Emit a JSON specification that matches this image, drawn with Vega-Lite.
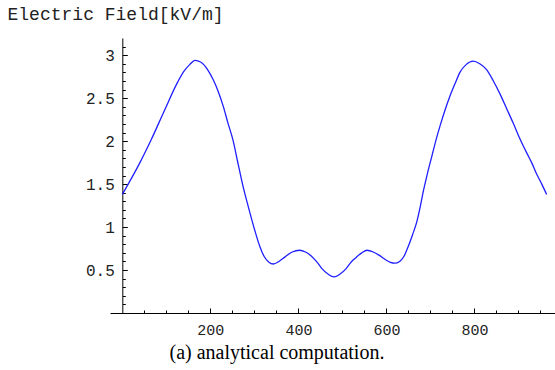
{
  "$schema": "https://vega.github.io/schema/vega-lite/v6.json",
  "autosize": "none",
  "width": 445,
  "height": 275,
  "padding": {"left": 110, "top": 38, "right": 0, "bottom": 57},
  "background": "white",
  "config": {"view": {"stroke": null}},
  "data": {"values": [
    {"x": 0, "y": 1.38}, {"x": 20, "y": 1.56}, {"x": 40, "y": 1.75}, {"x": 65, "y": 2.01},
    {"x": 96, "y": 2.36}, {"x": 126, "y": 2.69}, {"x": 141, "y": 2.82}, {"x": 153, "y": 2.89},
    {"x": 165, "y": 2.94}, {"x": 178, "y": 2.92}, {"x": 194, "y": 2.83}, {"x": 206, "y": 2.72},
    {"x": 217, "y": 2.59}, {"x": 229, "y": 2.41}, {"x": 240, "y": 2.21}, {"x": 252, "y": 2.0},
    {"x": 262, "y": 1.76}, {"x": 274, "y": 1.48}, {"x": 286, "y": 1.24}, {"x": 301, "y": 0.96},
    {"x": 312, "y": 0.78}, {"x": 322, "y": 0.66}, {"x": 333, "y": 0.59}, {"x": 343, "y": 0.57},
    {"x": 356, "y": 0.6}, {"x": 369, "y": 0.65}, {"x": 386, "y": 0.71}, {"x": 403, "y": 0.73},
    {"x": 416, "y": 0.71}, {"x": 428, "y": 0.67}, {"x": 441, "y": 0.6}, {"x": 453, "y": 0.52},
    {"x": 468, "y": 0.45}, {"x": 481, "y": 0.42}, {"x": 494, "y": 0.45}, {"x": 509, "y": 0.52},
    {"x": 521, "y": 0.6}, {"x": 532, "y": 0.65}, {"x": 544, "y": 0.7}, {"x": 556, "y": 0.73},
    {"x": 570, "y": 0.71}, {"x": 584, "y": 0.67}, {"x": 598, "y": 0.62}, {"x": 609, "y": 0.59},
    {"x": 619, "y": 0.58}, {"x": 630, "y": 0.6}, {"x": 640, "y": 0.66}, {"x": 650, "y": 0.78},
    {"x": 660, "y": 0.92}, {"x": 669, "y": 1.06}, {"x": 677, "y": 1.24}, {"x": 684, "y": 1.42},
    {"x": 693, "y": 1.62}, {"x": 703, "y": 1.82}, {"x": 712, "y": 2.0}, {"x": 722, "y": 2.18},
    {"x": 733, "y": 2.36}, {"x": 744, "y": 2.52}, {"x": 756, "y": 2.67}, {"x": 767, "y": 2.8},
    {"x": 781, "y": 2.89}, {"x": 797, "y": 2.93}, {"x": 812, "y": 2.9}, {"x": 828, "y": 2.83},
    {"x": 843, "y": 2.7}, {"x": 858, "y": 2.55}, {"x": 873, "y": 2.38}, {"x": 888, "y": 2.21},
    {"x": 903, "y": 2.03}, {"x": 919, "y": 1.86}, {"x": 930, "y": 1.75}, {"x": 941, "y": 1.62},
    {"x": 953, "y": 1.5}, {"x": 964, "y": 1.38}
  ]},
  "mark": {"type": "line", "color": "#1f1fff", "strokeWidth": 1.3, "interpolate": "monotone", "clip": true},
  "encoding": {
    "x": {
      "field": "x", "type": "quantitative",
      "scale": {"domain": [-28, 983], "nice": false, "zero": false},
      "axis": {
        "values": [50,100,150,200,250,300,350,400,450,500,550,600,650,700,750,800,850,900,950],
        "labelExpr": "round(datum.value) % 200 == 0 ? toString(datum.value) : ''",
        "tickSize": {"condition": {"test": "round(datum.value) % 200 == 0", "value": -5}, "value": -3},
        "labelPadding": 14,
        "labelFont": "Liberation Mono", "labelFontSize": 15, "labelColor": "#222",
        "labelBaseline": "top",
        "domainColor": "black", "tickColor": "black", "domainWidth": 1, "tickWidth": 1,
        "grid": false,
        "title": "(a) analytical computation.",
        "titleFont": "Liberation Serif", "titleFontSize": 20, "titleFontWeight": "normal",
        "titleColor": "black", "titleAlign": "left", "titleBaseline": "alphabetic",
        "titleAnchor": null, "titleX": 59, "titleY": 45.5
      }
    },
    "y": {
      "field": "y", "type": "quantitative",
      "scale": {"domain": [0, 3.2], "nice": false, "zero": false},
      "axis": {
        "offset": -12.32,
        "values": [0.1,0.2,0.3,0.4,0.5,0.6,0.7,0.8,0.9,1,1.1,1.2,1.3,1.4,1.5,1.6,1.7,1.8,1.9,2,2.1,2.2,2.3,2.4,2.5,2.6,2.7,2.8,2.9,3,3.1],
        "labelExpr": "round(datum.value*10) % 5 == 0 ? toString(round(datum.value*10)/10) : ''",
        "tickSize": {"condition": {"test": "round(datum.value*10) % 5 == 0", "value": -5}, "value": -3},
        "labelPadding": 13,
        "labelFont": "Liberation Mono", "labelFontSize": 16, "labelColor": "#222",
        "domainColor": "black", "tickColor": "black", "domainWidth": 1, "tickWidth": 1,
        "grid": false,
        "title": "Electric Field[kV/m]",
        "titleFont": "Liberation Mono", "titleFontSize": 18, "titleFontWeight": "normal",
        "titleColor": "#222", "titleAngle": 0, "titleAlign": "left", "titleBaseline": "alphabetic",
        "titleAnchor": null, "titleX": -115.3, "titleY": -18.5
      }
    }
  }
}
